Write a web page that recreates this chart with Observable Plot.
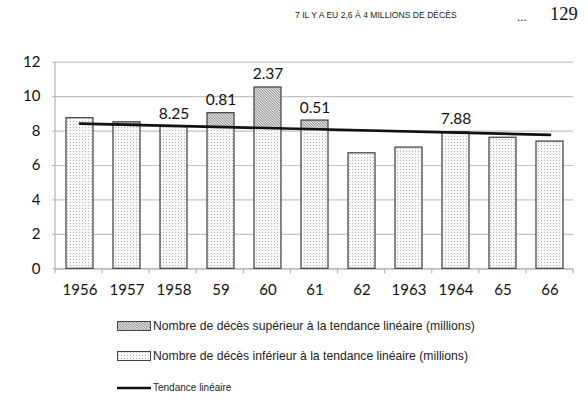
<!DOCTYPE html>
<html>
<head>
<meta charset="utf-8">
<script src="https://cdn.jsdelivr.net/npm/d3@7"></script>
<script src="https://cdn.jsdelivr.net/npm/@observablehq/plot@0.6"></script>
<style>
  html, body { margin: 0; padding: 0; background: #fff; }
  #page { position: relative; width: 588px; height: 404px; overflow: hidden; font-family: "Liberation Sans", Arial, sans-serif; }
  #chart { position: absolute; left: 0; top: 0; }
  .hdr { position: absolute; top: 10px; left: 295px; font-size: 8.6px; color: #222; white-space: nowrap; }
  .dots { position: absolute; top: 9px; left: 517px; font-family: "Liberation Serif", serif; font-size: 13px; color: #333; }
  .pg { position: absolute; top: 4px; left: 550px; font-family: "Liberation Serif", serif; font-size: 18.5px; color: #111; }
  .leg { position: absolute; left: 117px; display: flex; align-items: center; white-space: nowrap; color: #222; }
  .leg svg { display: block; margin-right: 2px; }
</style>
</head>
<body>
<div id="page">
  <div id="chart"></div>
  <div class="hdr">7 IL Y A EU 2,6 À 4 MILLIONS DE DÉCÈS</div>
  <div class="dots">...</div>
  <div class="pg">129</div>
  <div class="leg" style="top:319px;font-size:12.2px">
    <svg width="34" height="10"><rect x="0.5" y="0.5" width="33" height="9" fill="url(#hatchL)" stroke="#444"/></svg>
    <span>Nombre de décès supérieur à la tendance linéaire (millions)</span>
  </div>
  <div class="leg" style="top:349px;font-size:12.2px">
    <svg width="34" height="10"><rect x="0.5" y="0.5" width="33" height="9" fill="url(#dotsL)" stroke="#444"/></svg>
    <span>Nombre de décès inférieur à la tendance linéaire (millions)</span>
  </div>
  <div class="leg" style="top:382px;font-size:10px">
    <svg width="34" height="10"><line x1="0" y1="5" x2="34" y2="5" stroke="#111" stroke-width="2.6"/></svg>
    <span>Tendance linéaire</span>
  </div>
  <svg width="0" height="0" style="position:absolute">
    <defs>
      <pattern id="hatchL" width="2.6" height="2.6" patternUnits="userSpaceOnUse">
        <rect width="2.6" height="2.6" fill="#e6e6e6"/>
        <path d="M-1,-1L3.6,3.6M-1,1.6L1,3.6M1.6,-1L3.6,1" stroke="#5a5a5a" stroke-width="0.7"/>
      </pattern>
      <pattern id="dotsL" width="3" height="3" patternUnits="userSpaceOnUse">
        <rect width="3" height="3" fill="#f8f8f8"/>
        <rect x="1" y="1" width="1" height="1" fill="#b4b4b4"/>
      </pattern>
    </defs>
  </svg>
</div>
<script>
// ---- data ----
const years = ["1956", "1957", "1958", "59", "60", "61", "62", "1963", "1964", "65", "66"];
const lowerValues = [8.75, 8.37, 8.26, 8.23, 8.16, 8.10, 6.71, 7.04, 7.93, 7.61, 7.39];
const upperValues = [0, 0.14, 0, 0.81, 2.37, 0.51, 0, 0, 0, 0, 0];
const labelYears = ["1958", "59", "60", "61", "1964"];
const labelTexts = ["8.25", "0.81", "2.37", "0.51", "7.88"];
const trendYears = ["1956", "66"];
const trendValues = [8.43, 7.78];
const yTicks = [0, 2, 4, 6, 8, 10, 12];

const rows = years.map((y, i) => ({year: y, lower: lowerValues[i], upper: upperValues[i], total: lowerValues[i] + upperValues[i]}));
const labels = labelYears.map((y, i) => ({year: y, text: labelTexts[i], total: rows.find(r => r.year === y).total}));
const trend = trendYears.map((y, i) => ({year: y, value: trendValues[i]}));

const font = "Lato, 'Open Sans', sans-serif";

const chart = Plot.plot({
  width: 588,
  height: 310,
  marginTop: 61.7,
  marginBottom: 41.7,
  marginLeft: 55,
  marginRight: 15,
  style: {fontFamily: font, fontSize: "15px", color: "#111", background: "transparent"},
  x: {domain: years, paddingInner: 0.43, paddingOuter: 0.215, label: null},
  y: {domain: [0, 12], ticks: yTicks, label: null},
  marks: [
    Plot.gridY(yTicks, {stroke: "#c2c2c2", strokeOpacity: 1, strokeWidth: 1.2}),
    Plot.axisY(yTicks, {tickSize: 3, tickPadding: 12, stroke: "#b5b5b5", fill: "#111", fontSize: 15, tickFormat: d => String(d), label: null}),
    Plot.axisX({tickSize: 0, tickPadding: 16, fontSize: 15, fill: "#111", label: null}),
    Plot.ruleY([0], {stroke: "#b5b5b5", strokeWidth: 1.2}),
    Plot.barY(rows, {x: "year", y1: 0, y2: "lower", fill: "url(#dotsL)", stroke: "#4a4a4a", strokeWidth: 1.3}),
    Plot.barY(rows.filter(r => r.upper > 0), {x: "year", y1: "lower", y2: "total", fill: "url(#hatchL)", stroke: "#4a4a4a", strokeWidth: 1.3}),
    Plot.line(trend, {x: "year", y: "value", stroke: "#111", strokeWidth: 2.6}),
    Plot.text(labels, {x: "year", y: "total", text: "text", dy: -13, fontSize: 15.5, fill: "#111"})
  ]
});
document.getElementById("chart").appendChild(chart);

// axis decorations from the scales: vertical axis line and band-boundary ticks
const sx = chart.scale("x"), sy = chart.scale("y");
const svg = d3.select(chart);
const [r0, r1] = sx.range;
const step = (r1 - r0) / years.length;
const y0 = sy.apply(0), yTop = sy.apply(12);
const g = svg.append("g").attr("stroke", "#b5b5b5").attr("stroke-width", 1.2);
g.append("line").attr("x1", r0).attr("x2", r0).attr("y1", yTop).attr("y2", y0);
d3.range(years.length + 1).forEach(i => {
  const x = r0 + i * step;
  g.append("line").attr("x1", x).attr("x2", x).attr("y1", y0).attr("y2", y0 + 5);
});
</script>
</body>
</html>
